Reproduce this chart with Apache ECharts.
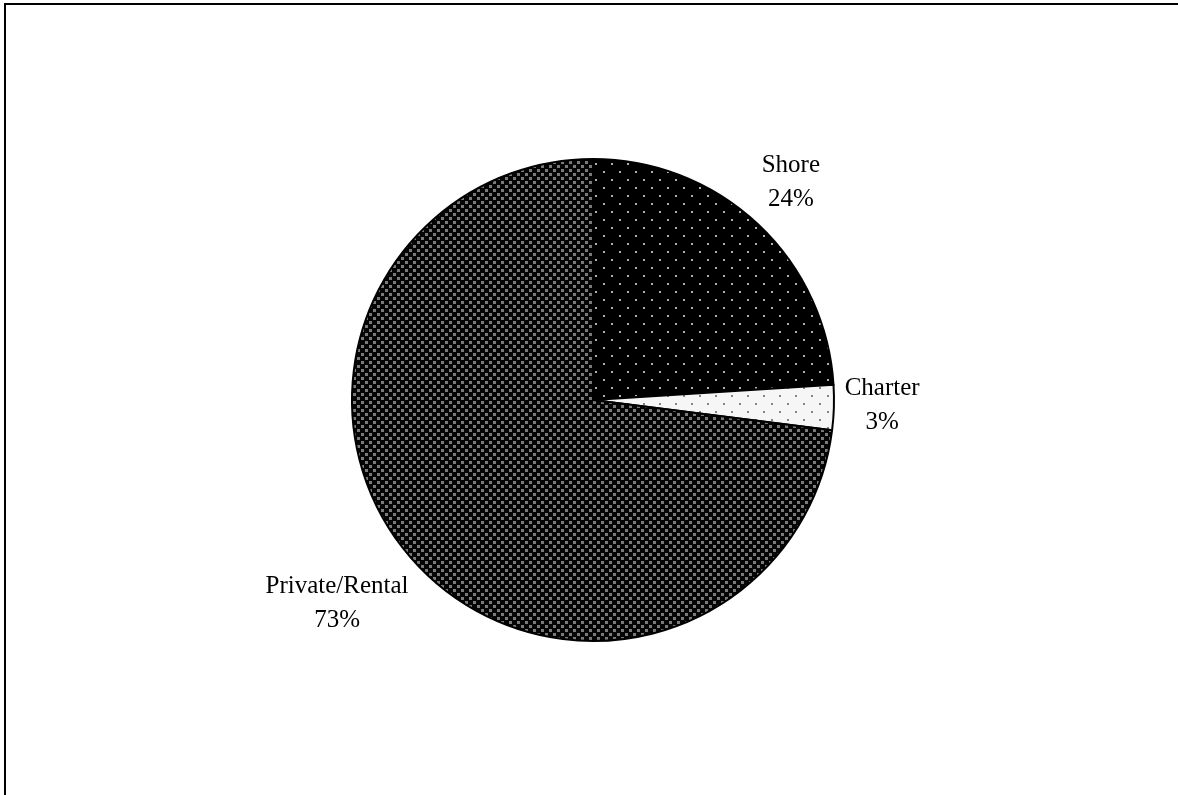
<!DOCTYPE html>
<html>
<head>
<meta charset="utf-8">
<script src="https://cdn.jsdelivr.net/npm/echarts@6/dist/echarts.min.js"></script>
<style>
html,body{margin:0;padding:0;background:#fff;}
#chart{width:1178px;height:795px;}
</style>
</head>
<body>
<div id="chart"></div>
<script>
// Data
const categories = ['Shore', 'Charter', 'Private/Rental'];
const shares = [24, 3, 73];
// label placement (styling): distance factor relative to radius, angle shift in degrees
const labelDistance = [1.22, 1.20, 1.357];
const labelAngleShift = [0.9, 0.7, -2.9];

function makePattern(size, bg, dot, dots, dotSize) {
  const c = document.createElement('canvas');
  c.width = size; c.height = size;
  const ctx = c.getContext('2d');
  ctx.fillStyle = bg; ctx.fillRect(0, 0, size, size);
  ctx.fillStyle = dot;
  dots.forEach(function (p) { ctx.fillRect(p[0], p[1], dotSize, dotSize); });
  return { image: c, repeat: 'repeat' };
}

const patterns = [
  makePattern(16, '#000000', '#b0b0b0', [[3, 3], [11, 11]], 2),
  makePattern(16, '#f6f6f6', '#858585', [[3, 3], [11, 11]], 2),
  makePattern(8, '#050505', '#7a7a7a', [[1, 1], [5, 5]], 3)
];

const center = [593, 400];
const radius = 241;
const total = shares.reduce(function (a, b) { return a + b; }, 0);

const chart = echarts.init(document.getElementById('chart'), null, { renderer: 'canvas' });

const option = {
  animation: false,
  backgroundColor: '#ffffff',
  graphic: [{
    type: 'rect',
    shape: { x: 5, y: 4, width: 1300, height: 900 },
    style: { fill: 'none', stroke: '#000', lineWidth: 2 },
    silent: true
  }],
  series: [{
    type: 'pie',
    center: center,
    radius: radius,
    startAngle: 90,
    clockwise: true,
    avoidLabelOverlap: false,
    data: categories.map(function (name, i) {
      return {
        name: name,
        value: shares[i],
        itemStyle: { color: patterns[i], borderColor: '#000', borderWidth: 2 }
      };
    }),
    label: {
      show: true,
      position: 'outside',
      formatter: function (p) { return p.name + '\n' + p.value + '%'; },
      fontFamily: 'Liberation Serif',
      fontSize: 25,
      lineHeight: 34,
      color: '#000',
      align: 'center'
    },
    labelLine: { show: false },
    labelLayout: function (params) {
      const i = params.dataIndex;
      let before = 0;
      for (let k = 0; k < i; k++) before += shares[k];
      const midFrac = (before + shares[i] / 2) / total;
      const ang = Math.PI / 2 - midFrac * 2 * Math.PI + labelAngleShift[i] * Math.PI / 180;
      const d = radius * labelDistance[i];
      return {
        x: center[0] + Math.cos(ang) * d,
        y: center[1] - Math.sin(ang) * d,
        align: 'center',
        verticalAlign: 'middle'
      };
    }
  }]
};
chart.setOption(option);
</script>
</body>
</html>
